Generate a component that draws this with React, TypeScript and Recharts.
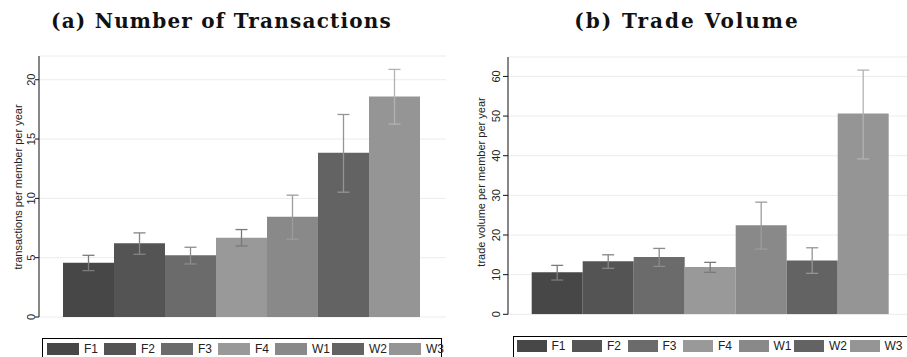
import React from 'react'
import { BarChart, Bar, XAxis, YAxis, CartesianGrid, Legend, ErrorBar, Label } from 'recharts'

// groups and their grey fills
const groups = ['F1', 'F2', 'F3', 'F4', 'W1', 'W2', 'W3']
const barColors = ['#474747', '#545454', '#6b6b6b', '#999999', '#898989', '#636363', '#959595']
const errColors = ['#7c7c7c', '#858585', '#8c8c8c', '#7a7a7a', '#9c9c9c', '#959595', '#b2b2b2']

// (a) number of transactions
const txMean = [4.58, 6.22, 5.21, 6.69, 8.44, 13.84, 18.59]
const txLow = [3.91, 5.29, 4.47, 5.99, 6.56, 10.52, 16.26]
const txHigh = [5.2, 7.09, 5.88, 7.37, 10.27, 17.07, 20.87]
const txTicks = [0, 5, 10, 15, 20]

// (b) trade volume
const volMean = [10.58, 13.35, 14.43, 11.91, 22.49, 13.6, 50.63]
const volLow = [8.64, 11.59, 12.09, 10.58, 16.45, 10.33, 39.19]
const volHigh = [12.34, 15.01, 16.62, 13.1, 28.29, 16.78, 61.6]
const volTicks = [0, 10, 20, 30, 40, 50, 60]

const SANS = '"Liberation Sans", Arial, Helvetica, sans-serif'

function buildRow(mean: number[], low: number[], high: number[]) {
  const row: Record<string, any> = { name: 'all' }
  groups.forEach((g, i) => {
    row[g] = mean[i]
    row[g + '_err'] = [mean[i] - low[i], high[i] - mean[i]]
  })
  return [row]
}

const makeTick = (dx: number) => (props: any) => {
  const { x, y, payload } = props
  const tx = x + dx
  return (
    <text x={tx} y={y} transform={`rotate(-90 ${tx} ${y})`} textAnchor="middle"
      fontSize={11} fill="#222" fontFamily={SANS}>
      {payload.value}
    </text>
  )
}

interface LegendOpts {
  width: number
  itemW: number
  swW: number
  pad: number
}

const legendContent = (opts: LegendOpts) => (props: any) => {
  const payload = props.payload || []
  return (
    <div style={{
      boxSizing: 'border-box', width: opts.width, height: 24, border: '1px solid #000',
      paddingTop: opts.pad, paddingLeft: opts.pad, display: 'flex', background: '#fff',
      fontFamily: SANS, fontSize: 12, color: '#222', whiteSpace: 'nowrap',
    }}>
      {payload.map((e: any) => (
        <div key={e.value} style={{ width: opts.itemW, flexShrink: 0, display: 'flex', alignItems: 'center', height: 12 }}>
          <span style={{ display: 'inline-block', width: opts.swW, height: 12, background: e.color, flexShrink: 0 }} />
          <span style={{ marginLeft: 5, lineHeight: '12px' }}>{e.value}</span>
        </div>
      ))}
    </div>
  )
}

interface PanelProps {
  data: any[]
  ticks: number[]
  domainMax: number
  yLabel: string
  width: number
  margin: { top: number; right: number; left: number; bottom: number }
  axisW: number
  tickSize: number
  tickDx: number
  labelX: number
  labelY: number
  gap: number
  legendPos: { top: number; left: number }
  legend: LegendOpts
}

function Panel(p: PanelProps) {
  return (
    <BarChart width={p.width} height={357} data={p.data} margin={p.margin}
      barGap={0} barCategoryGap={p.gap}>
      <CartesianGrid horizontal vertical={false} stroke="#ececec" />
      <XAxis dataKey="name" tick={false} tickLine={false} height={0} axisLine={{ stroke: '#111' }} />
      <YAxis width={p.axisW} domain={[0, p.domainMax]} ticks={p.ticks} allowDataOverflow
        interval={0} tickSize={p.tickSize} tickMargin={0} tickLine={{ stroke: '#111' }}
        axisLine={{ stroke: '#111' }} tick={makeTick(p.tickDx)}>
        <Label content={() => (
          <text x={p.labelX} y={p.labelY} transform={`rotate(-90 ${p.labelX} ${p.labelY})`}
            textAnchor="middle" fontSize={11} fill="#222" fontFamily={SANS}>
            {p.yLabel}
          </text>
        )} />
      </YAxis>
      <Legend verticalAlign="bottom" content={legendContent(p.legend)}
        wrapperStyle={{ top: p.legendPos.top, left: p.legendPos.left, bottom: 'auto', width: p.legend.width }} />
      {groups.map((g, i) => (
        <Bar key={g} dataKey={g} name={g} fill={barColors[i]} isAnimationActive={false}>
          <ErrorBar dataKey={g + '_err'} width={6} strokeWidth={1.3} stroke={errColors[i]} direction="y" />
        </Bar>
      ))}
    </BarChart>
  )
}

const titleStyle: React.CSSProperties = {
  position: 'absolute', top: 10, textAlign: 'center', fontFamily: '"DejaVu Serif", serif',
  fontWeight: 'bold', fontSize: 20, lineHeight: '22px', color: '#111', whiteSpace: 'nowrap',
}

export default function App() {
  const txData = buildRow(txMean, txLow, txHigh)
  const volData = buildRow(volMean, volLow, volHigh)
  return (
    <div style={{ position: 'absolute', left: 0, top: 0, width: 907, height: 357, overflow: 'hidden', background: '#fff' }}>
      <div style={{ ...titleStyle, left: 0, width: 443, letterSpacing: 1.2 }}>(a) Number of Transactions</div>
      <div style={{ ...titleStyle, left: 462, width: 450, letterSpacing: 2 }}>(b) Trade Volume</div>

      <div style={{ position: 'absolute', left: 0, top: 0 }}>
        <Panel data={txData} ticks={txTicks} domainMax={22} yLabel="transactions per member per year"
          width={450} margin={{ top: 56, right: 4, left: 0, bottom: 16 }} axisW={39}
          tickSize={4} tickDx={0} labelX={22} labelY={187} gap={24}
          legendPos={{ top: 338, left: 42 }} legend={{ width: 400, itemW: 57, swW: 32, pad: 4 }} />
      </div>
      <div style={{ position: 'absolute', left: 460, top: 0 }}>
        <Panel data={volData} ticks={volTicks} domainMax={64.9} yLabel="trade volume per member per year"
          width={452} margin={{ top: 57, right: 0, left: 0, bottom: 18.7 }} axisW={48}
          tickSize={5} tickDx={-3} labelX={25} labelY={182} gap={23.7}
          legendPos={{ top: 335.5, left: 52.5 }} legend={{ width: 420, itemW: 55.5, swW: 30, pad: 3 }} />
      </div>
    </div>
  )
}
